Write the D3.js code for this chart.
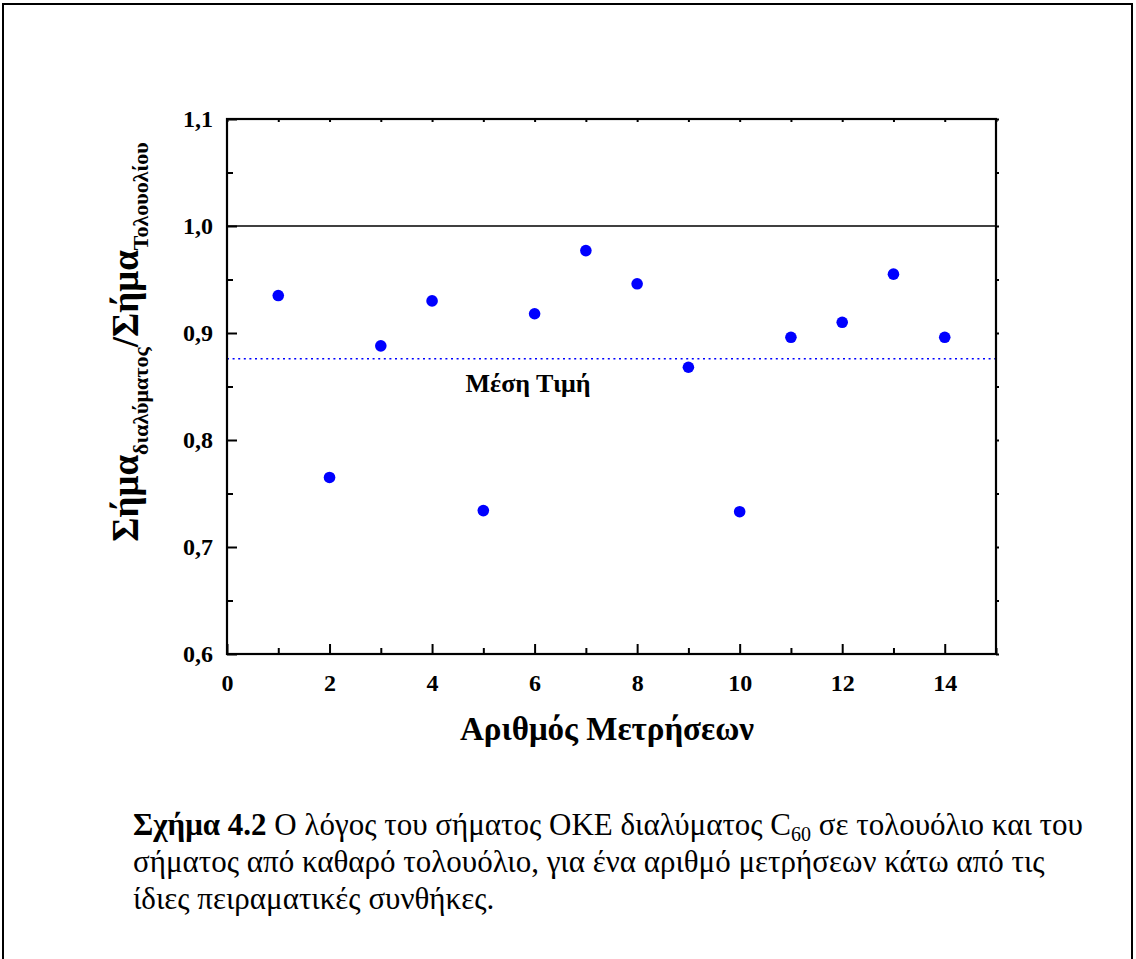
<!DOCTYPE html>
<html>
<head>
<meta charset="utf-8">
<script src="https://cdn.jsdelivr.net/npm/d3@7"></script>
<style>
  html, body { margin: 0; padding: 0; background: #fff; }
  svg { display: block; }
  text { font-family: "Liberation Serif", "Times New Roman", serif; }
</style>
</head>
<body>
<svg id="chart" width="1136" height="959"></svg>
<script>
// Measurement number and ratio of signals (solution / pure toluene)
const measurements = [1, 2, 3, 4, 5, 6, 7, 8, 9, 10, 11, 12, 13, 14];
const ratios = [0.935, 0.765, 0.888, 0.930, 0.734, 0.918, 0.977, 0.946, 0.868, 0.733, 0.896, 0.910, 0.955, 0.896];
const meanValue = 0.876;
const referenceValue = 1.0;
const xMajorTicks = [0, 2, 4, 6, 8, 10, 12, 14];
const xMinorTicks = [1, 3, 5, 7, 9, 11, 13, 15];
const yMajorTicks = [0.6, 0.7, 0.8, 0.9, 1.0, 1.1];
const yMinorTicks = [0.65, 0.75, 0.85, 0.95, 1.05];
const xDomain = [0, 15];
const yDomain = [0.6, 1.1];

const SERIF = '"Liberation Serif", "Times New Roman", serif';
const svg = d3.select("#chart");

// page frame
svg.append("rect")
  .attr("x", 3).attr("y", 4).attr("width", 1129).attr("height", 1000)
  .attr("fill", "none").attr("stroke", "#000").attr("stroke-width", 2);

const plot = { left: 227, right: 996, top: 119, bottom: 654 };
const x = d3.scaleLinear().domain(xDomain).range([plot.left, plot.right]);
const y = d3.scaleLinear().domain(yDomain).range([plot.bottom, plot.top]);
const fmt = d => d3.format(".1f")(d).replace(".", ",");

const g = svg.append("g");

// reference line at 1,0
g.append("line")
  .attr("x1", x(xDomain[0])).attr("x2", x(xDomain[1]))
  .attr("y1", y(referenceValue)).attr("y2", y(referenceValue))
  .attr("stroke", "#000").attr("stroke-width", 1.5);

// mean value line
g.append("line")
  .attr("x1", x(xDomain[0])).attr("x2", x(xDomain[1]))
  .attr("y1", y(meanValue)).attr("y2", y(meanValue))
  .attr("stroke", "#0000ff").attr("stroke-width", 1.6)
  .attr("stroke-dasharray", "2,3.6");

g.append("text")
  .attr("x", 528).attr("y", y(meanValue) + 33)
  .attr("text-anchor", "middle")
  .style("font-family", SERIF)
  .attr("font-weight", "bold").attr("font-size", 26)
  .text("Μέση Τιμή");

// axes: bottom / left with labels, inward ticks
function styleAxis(sel) {
  sel.select(".domain").remove();
  sel.selectAll(".tick line").attr("stroke", "#000").attr("stroke-width", 2);
  sel.selectAll(".tick text")
    .style("font-family", SERIF)
    .attr("font-weight", "bold").attr("font-size", 24).attr("fill", "#000");
}

g.append("g").attr("transform", `translate(0,${plot.bottom})`)
  .call(d3.axisBottom(x).tickValues(xMajorTicks).tickSize(-10).tickPadding(20).tickFormat(d3.format("d")))
  .call(styleAxis);
g.append("g").attr("transform", `translate(0,${plot.bottom})`)
  .call(d3.axisBottom(x).tickValues(xMinorTicks).tickSize(-6).tickFormat(""))
  .call(styleAxis);
g.append("g").attr("transform", `translate(${plot.left},0)`)
  .call(d3.axisLeft(y).tickValues(yMajorTicks).tickSize(-10).tickPadding(14).tickFormat(fmt))
  .call(styleAxis);
g.append("g").attr("transform", `translate(${plot.left},0)`)
  .call(d3.axisLeft(y).tickValues(yMinorTicks).tickSize(-6).tickFormat(""))
  .call(styleAxis);

// mirrored short ticks on top and right
g.append("g").attr("transform", `translate(0,${plot.top})`)
  .call(d3.axisTop(x).tickValues(xMajorTicks.concat(xMinorTicks)).tickSize(-3).tickFormat(""))
  .call(styleAxis);
g.append("g").attr("transform", `translate(${plot.right},0)`)
  .call(d3.axisRight(y).tickValues(yMajorTicks.concat(yMinorTicks)).tickSize(3).tickFormat(""))
  .call(styleAxis);

// frame of the plot area
g.append("rect")
  .attr("x", plot.left).attr("y", plot.top)
  .attr("width", plot.right - plot.left).attr("height", plot.bottom - plot.top)
  .attr("fill", "none").attr("stroke", "#000").attr("stroke-width", 2.2);

// data points
g.selectAll("circle.pt")
  .data(measurements)
  .join("circle")
  .attr("class", "pt")
  .attr("cx", (d) => x(d))
  .attr("cy", (d, i) => y(ratios[i]))
  .attr("r", 5.8)
  .attr("fill", "#0000ff");

// x axis title
svg.append("text")
  .attr("x", 607).attr("y", 740)
  .attr("text-anchor", "middle")
  .style("font-family", SERIF)
  .attr("font-weight", "bold").attr("font-size", 33)
  .text("Αριθμός Μετρήσεων");

// y axis title with subscripts
const yt = svg.append("text")
  .attr("transform", "translate(138,342) rotate(-90)")
  .attr("text-anchor", "middle")
  .style("font-family", SERIF)
  .attr("font-weight", "bold").attr("font-size", 37);
yt.append("tspan").text("Σήμα");
yt.append("tspan").attr("font-size", 22).attr("dy", 10).text("διαλύματος");
yt.append("tspan").attr("dy", -10).text("/Σήμα");
yt.append("tspan").attr("font-size", 22).attr("dy", 10).text("Τολουολίου");

// caption
const cap = svg.append("g");
const capText = (yPos) => cap.append("text").attr("x", 133).attr("y", yPos)
  .style("font-family", SERIF).attr("font-size", 31);
const l1 = capText(835);
l1.append("tspan").attr("font-weight", "bold").text("Σχήμα 4.2");
l1.append("tspan").text(" Ο λόγος του σήματος ΟΚΕ διαλύματος C");
l1.append("tspan").attr("font-size", 20).attr("dy", 6).text("60");
l1.append("tspan").attr("dy", -6).text(" σε τολουόλιο και του");
capText(872).text("σήματος από καθαρό τολουόλιο, για ένα αριθμό μετρήσεων κάτω από τις");
capText(909).text("ίδιες πειραματικές συνθήκες.");
</script>
</body>
</html>
